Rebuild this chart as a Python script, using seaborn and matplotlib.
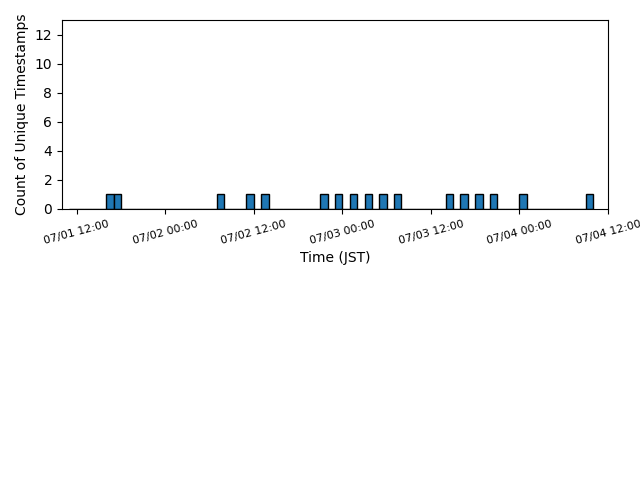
import matplotlib
matplotlib.use("Agg")
import matplotlib.pyplot as plt
import matplotlib.dates as mdates
import numpy as np
import pandas as pd
import seaborn as sns

# Timestamps (JST), one unique timestamp per occupied hourly bin
timestamps = [
    "2024-07-01 16:30", "2024-07-01 17:30",
    "2024-07-02 07:30", "2024-07-02 11:30", "2024-07-02 13:30",
    "2024-07-02 21:30", "2024-07-02 23:30",
    "2024-07-03 01:30", "2024-07-03 03:30", "2024-07-03 05:30", "2024-07-03 07:30",
    "2024-07-03 14:30", "2024-07-03 16:30", "2024-07-03 18:30", "2024-07-03 20:30",
    "2024-07-04 00:30", "2024-07-04 09:30",
]
bin_start = "2024-07-01 11:00"
bin_end = "2024-07-04 10:00"
xlim_start = "2024-07-01 10:00"
xlim_end = "2024-07-04 12:00"
tick_start = "2024-07-01 12:00"
tick_end = "2024-07-04 12:00"

ts_num = mdates.date2num(pd.to_datetime(timestamps))
edges = mdates.date2num(pd.date_range(bin_start, bin_end, freq="h"))
df = pd.DataFrame({"t": ts_num})

fig = plt.figure(figsize=(6.4, 4.8), dpi=100)
ax = fig.add_axes([62 / 640, 1 - 209 / 480, (608 - 62) / 640, (209 - 20) / 480])
sns.histplot(data=df, x="t", bins=edges, ax=ax, color="#1f77b4",
             edgecolor="black", linewidth=1, alpha=1)

ax.set_xlim(mdates.date2num(pd.Timestamp(xlim_start)), mdates.date2num(pd.Timestamp(xlim_end)))
ax.set_ylim(0, 13)
ax.set_yticks(np.arange(0, 13, 2))
ticks = mdates.date2num(pd.date_range(tick_start, tick_end, freq="12h"))
ax.set_xticks(ticks)
ax.xaxis.set_major_formatter(mdates.DateFormatter("%m/%d %H:%M"))
plt.setp(ax.get_xticklabels(), rotation=15, fontsize=8, ha="center")
ax.set_xlabel("Time (JST)")
ax.set_ylabel("Count of Unique Timestamps")

fig.savefig("out.png", dpi=100)
